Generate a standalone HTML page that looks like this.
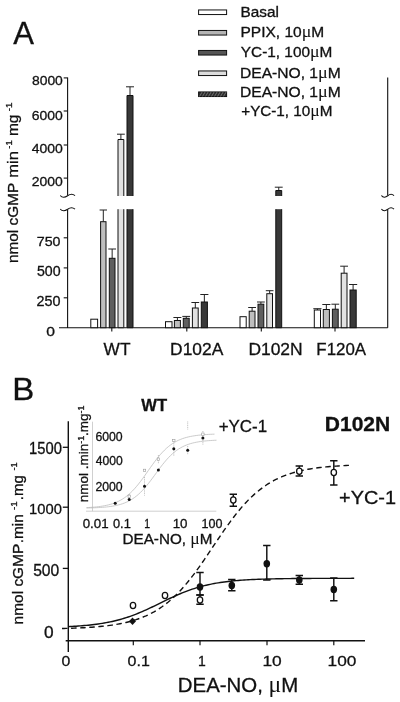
<!DOCTYPE html>
<html><head><meta charset="utf-8"><title>Figure</title>
<style>
html,body{margin:0;padding:0;background:#fff;}
svg{display:block;filter:grayscale(1);}
svg text{font-family:"Liberation Sans",sans-serif;fill:#111;stroke:#111;stroke-width:0.3px;}
</style></head>
<body>
<svg width="400" height="702" viewBox="0 0 400 702">
<rect width="400" height="702" fill="#fff"/>
<text transform="translate(13.20 44.20) scale(0.9786 1)" font-size="31.74" font-weight="normal">A</text>
<text transform="translate(240.52 16.50) scale(1.1156 1)" font-size="13.77" font-weight="normal">Basal</text>
<text transform="translate(240.51 36.90) scale(1.1030 1)" font-size="14.06" font-weight="normal">PPIX, 10<tspan font-family="Liberation Serif, serif" font-size="1.16em" stroke="none">μ</tspan>M</text>
<text transform="translate(240.84 57.40) scale(1.0820 1)" font-size="14.20" font-weight="normal">YC-1, 100<tspan font-family="Liberation Serif, serif" font-size="1.16em" stroke="none">μ</tspan>M</text>
<text transform="translate(240.05 78.00) scale(1.0992 1)" font-size="14.20" font-weight="normal">DEA-NO, 1<tspan font-family="Liberation Serif, serif" font-size="1.16em" stroke="none">μ</tspan>M</text>
<text transform="translate(240.05 97.40) scale(1.0992 1)" font-size="14.20" font-weight="normal">DEA-NO, 1<tspan font-family="Liberation Serif, serif" font-size="1.16em" stroke="none">μ</tspan>M</text>
<text transform="translate(241.24 116.20) scale(1.0736 1)" font-size="14.20" font-weight="normal">+YC-1, 10<tspan font-family="Liberation Serif, serif" font-size="1.16em" stroke="none">μ</tspan>M</text>
<text transform="translate(31.94 85.00) scale(1.0205 1)" font-size="13.62" font-weight="normal">8000</text>
<text transform="translate(31.80 119.50) scale(1.0363 1)" font-size="13.48" font-weight="normal">6000</text>
<text transform="translate(31.72 152.80) scale(1.0391 1)" font-size="13.48" font-weight="normal">4000</text>
<text transform="translate(31.80 186.20) scale(1.0363 1)" font-size="13.48" font-weight="normal">2000</text>
<text transform="translate(36.79 245.60) scale(1.0566 1)" font-size="13.48" font-weight="normal">750</text>
<text transform="translate(36.93 275.90) scale(1.0278 1)" font-size="13.77" font-weight="normal">500</text>
<text transform="translate(36.58 305.60) scale(1.0435 1)" font-size="13.77" font-weight="normal">250</text>
<text transform="translate(46.27 335.60) scale(1.1593 1)" font-size="13.48" font-weight="normal">0</text>
<text transform="translate(103.58 354.50) scale(1.0362 1)" font-size="16.67" font-weight="normal">WT</text>
<text transform="translate(170.11 354.50) scale(1.0266 1)" font-size="16.96" font-weight="normal">D102A</text>
<text transform="translate(248.40 354.50) scale(1.0464 1)" font-size="16.67" font-weight="normal">D102N</text>
<text transform="translate(316.35 354.50) scale(1.0133 1)" font-size="16.67" font-weight="normal">F120A</text>
<text transform="translate(18.00 263.08) rotate(-90) scale(1.0212 1)" font-size="15.07" font-weight="normal">nmol cGMP</text>
<text transform="translate(18.00 177.66) rotate(-90) scale(1.0983 1)" font-size="15.07" font-weight="normal">min</text>
<text transform="translate(12.00 148.68) rotate(-90) scale(1.1153 1)" font-size="8.41" font-weight="normal">-1</text>
<text transform="translate(18.00 136.09) rotate(-90) scale(1.0297 1)" font-size="15.07" font-weight="normal">mg</text>
<text transform="translate(12.00 111.14) rotate(-90) scale(1.1673 1)" font-size="8.41" font-weight="normal">-1</text>
<text transform="translate(12.36 400.00) scale(1.0721 1)" font-size="30.80" font-weight="normal">B</text>
<text transform="translate(29.02 453.70) scale(0.9431 1)" font-size="15.65" font-weight="normal">1500</text>
<text transform="translate(29.02 514.30) scale(0.9519 1)" font-size="15.51" font-weight="normal">1000</text>
<text transform="translate(33.17 575.50) scale(1.0005 1)" font-size="15.65" font-weight="normal">500</text>
<text transform="translate(44.01 638.30) scale(1.1047 1)" font-size="15.65" font-weight="normal">0</text>
<text transform="translate(61.57 665.70) scale(1.0210 1)" font-size="15.51" font-weight="normal">0</text>
<text transform="translate(127.56 665.70) scale(1.0318 1)" font-size="15.51" font-weight="normal">0.1</text>
<text transform="translate(197.88 665.70) scale(0.8998 1)" font-size="15.51" font-weight="normal">1</text>
<text transform="translate(262.41 665.70) scale(1.1204 1)" font-size="15.51" font-weight="normal">10</text>
<text transform="translate(327.62 665.70) scale(1.1150 1)" font-size="15.51" font-weight="normal">100</text>
<text transform="translate(177.82 691.80) scale(1.0068 1)" font-size="20.29" font-weight="normal">DEA-NO, <tspan font-family="Liberation Serif, serif" font-size="1.16em" stroke="none">μ</tspan>M</text>
<text transform="translate(22.90 624.38) rotate(-90) scale(1.0556 1)" font-size="14.64" font-weight="normal">nmol cGMP</text>
<text transform="translate(22.90 543.18) rotate(-90) scale(1.0465 1)" font-size="14.64" font-weight="normal">.min</text>
<text transform="translate(17.00 509.88) rotate(-90) scale(1.1450 1)" font-size="8.41" font-weight="normal">-1</text>
<text transform="translate(22.90 500.15) rotate(-90) scale(1.0225 1)" font-size="14.64" font-weight="normal">.mg</text>
<text transform="translate(17.00 470.47) rotate(-90) scale(1.1004 1)" font-size="8.41" font-weight="normal">-1</text>
<text transform="translate(324.78 431.25) scale(1.0560 1)" font-size="19.93" font-weight="bold">D102N</text>
<text transform="translate(339.00 504.25) scale(1.0577 1)" font-size="18.84" font-weight="normal">+YC-1</text>
<text transform="translate(218.65 431.75) scale(1.0389 1)" font-size="16.30" font-weight="normal">+YC-1</text>
<text transform="translate(141.25 410.75) scale(1.0189 1)" font-size="16.30" font-weight="bold">WT</text>
<text transform="translate(95.38 440.80) scale(0.9869 1)" font-size="12.46" font-weight="normal">6000</text>
<text transform="translate(95.76 465.40) scale(0.9732 1)" font-size="12.46" font-weight="normal">4000</text>
<text transform="translate(95.38 491.00) scale(0.9869 1)" font-size="12.46" font-weight="normal">2000</text>
<text transform="translate(82.67 527.60) scale(1.0455 1)" font-size="12.75" font-weight="normal">0.01</text>
<text transform="translate(112.99 527.60) scale(1.0073 1)" font-size="12.75" font-weight="normal">0.1</text>
<text transform="translate(144.16 527.60) scale(0.8206 1)" font-size="12.75" font-weight="normal">1</text>
<text transform="translate(172.68 527.60) scale(1.0494 1)" font-size="12.75" font-weight="normal">10</text>
<text transform="translate(201.49 527.60) scale(0.9864 1)" font-size="12.75" font-weight="normal">100</text>
<text transform="translate(122.53 544.25) scale(1.0788 1)" font-size="14.13" font-weight="normal">DEA-NO, <tspan font-family="Liberation Serif, serif" font-size="1.16em" stroke="none">μ</tspan>M</text>
<text transform="translate(88.00 502.14) rotate(-90) scale(1.0558 1)" font-size="12.75" font-weight="normal">nmol .min<tspan dy="-0.42em" font-size="0.66em">-1</tspan><tspan dy="0.277em">.mg</tspan><tspan dy="-0.42em" font-size="0.66em">-1</tspan></text>
<rect x="198.6" y="9.95" width="28" height="4.6" fill="#ffffff" stroke="#111" stroke-width="1"/>
<rect x="198.6" y="30.45" width="28" height="4.6" fill="#b4b4b4" stroke="#111" stroke-width="1"/>
<rect x="198.6" y="50.45" width="28" height="4.6" fill="#555555" stroke="#111" stroke-width="1"/>
<rect x="198.6" y="70.95" width="28" height="4.6" fill="#dddddd" stroke="#111" stroke-width="1"/>
<rect x="198.6" y="91.95" width="28" height="4.6" fill="#2e2e2e" stroke="#111" stroke-width="1"/>
<line x1="199.5" y1="96.45" x2="202.1" y2="92.05" stroke="#8a8a8a" stroke-width="0.7"/>
<line x1="202.5" y1="96.45" x2="205.1" y2="92.05" stroke="#8a8a8a" stroke-width="0.7"/>
<line x1="205.5" y1="96.45" x2="208.1" y2="92.05" stroke="#8a8a8a" stroke-width="0.7"/>
<line x1="208.5" y1="96.45" x2="211.1" y2="92.05" stroke="#8a8a8a" stroke-width="0.7"/>
<line x1="211.5" y1="96.45" x2="214.1" y2="92.05" stroke="#8a8a8a" stroke-width="0.7"/>
<line x1="214.5" y1="96.45" x2="217.1" y2="92.05" stroke="#8a8a8a" stroke-width="0.7"/>
<line x1="217.5" y1="96.45" x2="220.1" y2="92.05" stroke="#8a8a8a" stroke-width="0.7"/>
<line x1="220.5" y1="96.45" x2="223.1" y2="92.05" stroke="#8a8a8a" stroke-width="0.7"/>
<line x1="223.5" y1="96.45" x2="226.1" y2="92.05" stroke="#8a8a8a" stroke-width="0.7"/>
<path d="M67.6 77.5V195.5 M67.6 209.5V327.7 M59 327.7H387.7 M387.7 327.7V209.5 M387.7 195.5V77.5" fill="none" stroke="#111" stroke-width="1.1"/>
<path d="M60.199999999999996 195.5 C62.31428571428571 198.0 65.25079365079364 197.4 67.6 195.8 C69.94920634920635 194.0 72.88571428571429 193.8 75.0 195.60000000000002 M60.199999999999996 209.0 C62.31428571428571 211.5 65.25079365079364 210.9 67.6 209.3 C69.94920634920635 207.5 72.88571428571429 207.3 75.0 209.10000000000002 M381.4 195.5 C383.2 198.0 385.7 197.4 387.7 195.8 C389.7 194.0 392.2 193.8 394.0 195.60000000000002 M381.4 209.0 C383.2 211.5 385.7 210.9 387.7 209.3 C389.7 207.5 392.2 207.3 394.0 209.10000000000002" fill="none" stroke="#111" stroke-width="1.1"/>
<line x1="63.7" y1="77.9" x2="67.6" y2="77.9" stroke="#111" stroke-width="1.1"/>
<line x1="63.7" y1="111.0" x2="67.6" y2="111.0" stroke="#111" stroke-width="1.1"/>
<line x1="63.7" y1="145.0" x2="67.6" y2="145.0" stroke="#111" stroke-width="1.1"/>
<line x1="63.7" y1="178.1" x2="67.6" y2="178.1" stroke="#111" stroke-width="1.1"/>
<line x1="63.7" y1="237.8" x2="67.6" y2="237.8" stroke="#111" stroke-width="1.1"/>
<line x1="63.7" y1="267.9" x2="67.6" y2="267.9" stroke="#111" stroke-width="1.1"/>
<line x1="63.7" y1="297.8" x2="67.6" y2="297.8" stroke="#111" stroke-width="1.1"/>
<rect x="90.8" y="319.2" width="6.799999999999997" height="8.5" fill="#ffffff" stroke="#111" stroke-width="1"/>
<path d="M103.3 221.7V210.0 M99.6 210.0H107.0" stroke="#222" stroke-width="1" fill="none"/>
<rect x="100.6" y="221.7" width="5.400000000000006" height="106.0" fill="#bebebe" stroke="#111" stroke-width="1"/>
<path d="M112.15 258.3V249.0 M108.3 249.0H116.0" stroke="#222" stroke-width="1" fill="none"/>
<rect x="109.3" y="258.3" width="5.700000000000003" height="69.39999999999998" fill="#5e5e5e" stroke="#111" stroke-width="1"/>
<path d="M120.9 139.5V134.2 M117.0 134.2H124.8" stroke="#222" stroke-width="1" fill="none"/>
<rect x="118.0" y="139.5" width="5.799999999999997" height="56.5" fill="#e2e2e2"/>
<path d="M118.0 196.0V139.5H123.8V196.0" fill="none" stroke="#111" stroke-width="1"/>
<rect x="118.0" y="209.2" width="5.799999999999997" height="118.5" fill="#e2e2e2"/>
<path d="M118.0 209.2V327.7H123.8V209.2" fill="none" stroke="#111" stroke-width="1"/>
<path d="M130.0 95.5V86.8 M126.0 86.8H134.0" stroke="#222" stroke-width="1" fill="none"/>
<rect x="127.0" y="95.5" width="6.0" height="100.5" fill="#383838"/>
<path d="M127.0 196.0V95.5H133.0V196.0" fill="none" stroke="#111" stroke-width="1"/>
<rect x="127.0" y="209.2" width="6.0" height="118.5" fill="#383838"/>
<path d="M127.0 209.2V327.7H133.0V209.2" fill="none" stroke="#111" stroke-width="1"/>
<rect x="165.5" y="321.7" width="6.5" height="6.0" fill="#ffffff" stroke="#111" stroke-width="1"/>
<path d="M177.4 320.5V317.5 M173.4 317.5H181.4" stroke="#222" stroke-width="1" fill="none"/>
<rect x="174.4" y="320.5" width="6.0" height="7.199999999999989" fill="#bebebe" stroke="#111" stroke-width="1"/>
<path d="M186.25 318.3V316.4 M182.3 316.4H190.2" stroke="#222" stroke-width="1" fill="none"/>
<rect x="183.3" y="318.3" width="5.899999999999977" height="9.399999999999977" fill="#5e5e5e" stroke="#111" stroke-width="1"/>
<path d="M195.3 308.0V302.5 M191.4 302.5H199.2" stroke="#222" stroke-width="1" fill="none"/>
<rect x="192.4" y="308.0" width="5.799999999999983" height="19.69999999999999" fill="#e2e2e2" stroke="#111" stroke-width="1"/>
<path d="M204.35000000000002 302.0V294.5 M200.3 294.5H208.4" stroke="#222" stroke-width="1" fill="none"/>
<rect x="201.3" y="302.0" width="6.099999999999994" height="25.69999999999999" fill="#383838" stroke="#111" stroke-width="1"/>
<rect x="240.0" y="316.7" width="6.199999999999989" height="11.0" fill="#ffffff" stroke="#111" stroke-width="1"/>
<path d="M252.1 311.2V307.5 M248.2 307.5H256.0" stroke="#222" stroke-width="1" fill="none"/>
<rect x="249.2" y="311.2" width="5.800000000000011" height="16.5" fill="#bebebe" stroke="#111" stroke-width="1"/>
<path d="M260.9 304.2V302.0 M257.0 302.0H264.8" stroke="#222" stroke-width="1" fill="none"/>
<rect x="258.0" y="304.2" width="5.800000000000011" height="23.5" fill="#5e5e5e" stroke="#111" stroke-width="1"/>
<path d="M269.65 293.7V290.7 M265.8 290.7H273.5" stroke="#222" stroke-width="1" fill="none"/>
<rect x="266.8" y="293.7" width="5.699999999999989" height="34.0" fill="#e2e2e2" stroke="#111" stroke-width="1"/>
<path d="M278.75 190.5V187.2 M274.8 187.2H282.7" stroke="#222" stroke-width="1" fill="none"/>
<rect x="275.8" y="190.5" width="5.899999999999977" height="5.5" fill="#383838"/>
<path d="M275.8 196.0V190.5H281.7V196.0" fill="none" stroke="#111" stroke-width="1"/>
<rect x="275.8" y="209.2" width="5.899999999999977" height="118.5" fill="#383838"/>
<path d="M275.8 209.2V327.7H281.7V209.2" fill="none" stroke="#111" stroke-width="1"/>
<path d="M317.4 310.0V308.7 M313.3 308.7H321.5" stroke="#222" stroke-width="1" fill="none"/>
<rect x="314.3" y="310.0" width="6.199999999999989" height="17.69999999999999" fill="#ffffff" stroke="#111" stroke-width="1"/>
<path d="M326.35 309.5V304.5 M322.3 304.5H330.4" stroke="#222" stroke-width="1" fill="none"/>
<rect x="323.3" y="309.5" width="6.099999999999966" height="18.19999999999999" fill="#bebebe" stroke="#111" stroke-width="1"/>
<path d="M335.29999999999995 309.2V304.2 M331.4 304.2H339.2" stroke="#222" stroke-width="1" fill="none"/>
<rect x="332.4" y="309.2" width="5.800000000000011" height="18.5" fill="#5e5e5e" stroke="#111" stroke-width="1"/>
<path d="M344.1 273.2V266.2 M340.2 266.2H348.0" stroke="#222" stroke-width="1" fill="none"/>
<rect x="341.2" y="273.2" width="5.800000000000011" height="54.5" fill="#e2e2e2" stroke="#111" stroke-width="1"/>
<path d="M353.1 290.0V284.5 M349.0 284.5H357.2" stroke="#222" stroke-width="1" fill="none"/>
<rect x="350.0" y="290.0" width="6.199999999999989" height="37.69999999999999" fill="#383838" stroke="#111" stroke-width="1"/>
<line x1="111.8" y1="327.7" x2="111.8" y2="331.4" stroke="#111" stroke-width="1.1"/>
<line x1="186.8" y1="327.7" x2="186.8" y2="331.4" stroke="#111" stroke-width="1.1"/>
<line x1="261.3" y1="327.7" x2="261.3" y2="331.4" stroke="#111" stroke-width="1.1"/>
<line x1="335.0" y1="327.7" x2="335.0" y2="331.4" stroke="#111" stroke-width="1.1"/>
<path d="M68.3 421.2V652 M65.7 640.7H365" fill="none" stroke="#111" stroke-width="1.4"/>
<line x1="62.8" y1="447.3" x2="68.3" y2="447.3" stroke="#111" stroke-width="1.3"/>
<line x1="62.8" y1="507.2" x2="68.3" y2="507.2" stroke="#111" stroke-width="1.3"/>
<line x1="62.8" y1="568.4" x2="68.3" y2="568.4" stroke="#111" stroke-width="1.3"/>
<line x1="133.3" y1="640.7" x2="133.3" y2="645.3" stroke="#111" stroke-width="1.2"/>
<line x1="200" y1="640.7" x2="200" y2="645.3" stroke="#111" stroke-width="1.2"/>
<line x1="267" y1="640.7" x2="267" y2="645.3" stroke="#111" stroke-width="1.2"/>
<line x1="333.8" y1="640.7" x2="333.8" y2="645.3" stroke="#111" stroke-width="1.2"/>
<path d="M68.2 626.64 L70.2 626.53 L72.2 626.42 L74.2 626.31 L76.2 626.18 L78.2 626.04 L80.2 625.90 L82.2 625.74 L84.2 625.57 L86.2 625.39 L88.2 625.19 L90.2 624.98 L92.2 624.76 L94.2 624.51 L96.2 624.26 L98.2 623.98 L100.2 623.68 L102.2 623.37 L104.2 623.03 L106.2 622.67 L108.2 622.29 L110.2 621.88 L112.2 621.45 L114.2 620.99 L116.2 620.51 L118.2 620.00 L120.2 619.46 L122.2 618.89 L124.2 618.29 L126.2 617.66 L128.2 617.00 L130.2 616.31 L132.2 615.59 L134.2 614.85 L136.2 614.07 L138.2 613.27 L140.2 612.44 L142.2 611.58 L144.2 610.70 L146.2 609.80 L148.2 608.88 L150.2 607.95 L152.2 607.00 L154.2 606.03 L156.2 605.06 L158.2 604.08 L160.2 603.10 L162.2 602.12 L164.2 601.14 L166.2 600.17 L168.2 599.20 L170.2 598.25 L172.2 597.32 L174.2 596.40 L176.2 595.50 L178.2 594.62 L180.2 593.76 L182.2 592.93 L184.2 592.13 L186.2 591.35 L188.2 590.61 L190.2 589.89 L192.2 589.20 L194.2 588.54 L196.2 587.91 L198.2 587.31 L200.2 586.74 L202.2 586.20 L204.2 585.69 L206.2 585.21 L208.2 584.75 L210.2 584.32 L212.2 583.91 L214.2 583.53 L216.2 583.17 L218.2 582.83 L220.2 582.52 L222.2 582.22 L224.2 581.94 L226.2 581.69 L228.2 581.44 L230.2 581.22 L232.2 581.01 L234.2 580.81 L236.2 580.63 L238.2 580.46 L240.2 580.30 L242.2 580.16 L244.2 580.02 L246.2 579.89 L248.2 579.78 L250.2 579.67 L252.2 579.56 L254.2 579.47 L256.2 579.38 L258.2 579.30 L260.2 579.23 L262.2 579.16 L264.2 579.09 L266.2 579.03 L268.2 578.98 L270.2 578.93 L272.2 578.88 L274.2 578.84 L276.2 578.80 L278.2 578.76 L280.2 578.72 L282.2 578.69 L284.2 578.66 L286.2 578.64 L288.2 578.61 L290.2 578.59 L292.2 578.56 L294.2 578.54 L296.2 578.53 L298.2 578.51 L300.2 578.49 L302.2 578.48 L304.2 578.47 L306.2 578.45 L308.2 578.44 L310.2 578.43 L312.2 578.42 L314.2 578.41 L316.2 578.40 L318.2 578.39 L320.2 578.39 L322.2 578.38 L324.2 578.37 L326.2 578.37 L328.2 578.36 L330.2 578.36 L332.2 578.35 L334.2 578.35 L336.2 578.35 L338.2 578.34 L340.2 578.34 L342.2 578.34 L344.2 578.33 L346.2 578.33 L348.2 578.33 L350.2 578.33 L352.2 578.32 L354.2 578.32" fill="none" stroke="#111" stroke-width="1.4"/>
<path d="M62.0 628.51 L64.0 628.46 L66.0 628.41 L68.0 628.35 L70.0 628.28 L72.0 628.21 L74.0 628.14 L76.0 628.06 L78.0 627.98 L80.0 627.88 L82.0 627.79 L84.0 627.68 L86.0 627.57 L88.0 627.45 L90.0 627.32 L92.0 627.18 L94.0 627.03 L96.0 626.86 L98.0 626.69 L100.0 626.51 L102.0 626.31 L104.0 626.09 L106.0 625.86 L108.0 625.62 L110.0 625.36 L112.0 625.07 L114.0 624.77 L116.0 624.45 L118.0 624.10 L120.0 623.73 L122.0 623.33 L124.0 622.91 L126.0 622.46 L128.0 621.97 L130.0 621.45 L132.0 620.90 L134.0 620.31 L136.0 619.68 L138.0 619.00 L140.0 618.29 L142.0 617.53 L144.0 616.71 L146.0 615.85 L148.0 614.93 L150.0 613.96 L152.0 612.93 L154.0 611.83 L156.0 610.67 L158.0 609.44 L160.0 608.15 L162.0 606.78 L164.0 605.33 L166.0 603.81 L168.0 602.22 L170.0 600.54 L172.0 598.78 L174.0 596.94 L176.0 595.01 L178.0 593.01 L180.0 590.92 L182.0 588.74 L184.0 586.49 L186.0 584.15 L188.0 581.74 L190.0 579.25 L192.0 576.68 L194.0 574.05 L196.0 571.36 L198.0 568.60 L200.0 565.80 L202.0 562.94 L204.0 560.05 L206.0 557.12 L208.0 554.16 L210.0 551.18 L212.0 548.20 L214.0 545.20 L216.0 542.22 L218.0 539.24 L220.0 536.28 L222.0 533.35 L224.0 530.46 L226.0 527.60 L228.0 524.80 L230.0 522.04 L232.0 519.35 L234.0 516.72 L236.0 514.15 L238.0 511.66 L240.0 509.25 L242.0 506.91 L244.0 504.66 L246.0 502.48 L248.0 500.39 L250.0 498.39 L252.0 496.46 L254.0 494.62 L256.0 492.86 L258.0 491.18 L260.0 489.59 L262.0 488.07 L264.0 486.62 L266.0 485.25 L268.0 483.96 L270.0 482.73 L272.0 481.57 L274.0 480.47 L276.0 479.44 L278.0 478.47 L280.0 477.55 L282.0 476.69 L284.0 475.87 L286.0 475.11 L288.0 474.40 L290.0 473.72 L292.0 473.09 L294.0 472.50 L296.0 471.95 L298.0 471.43 L300.0 470.94 L302.0 470.49 L304.0 470.07 L306.0 469.67 L308.0 469.30 L310.0 468.95 L312.0 468.63 L314.0 468.33 L316.0 468.04 L318.0 467.78 L320.0 467.54 L322.0 467.31 L324.0 467.09 L326.0 466.89 L328.0 466.71 L330.0 466.54 L332.0 466.37 L334.0 466.22 L336.0 466.08 L338.0 465.95 L340.0 465.83 L342.0 465.72 L344.0 465.61 L346.0 465.52 L348.0 465.42 L350.0 465.34" fill="none" stroke="#111" stroke-width="1.4" stroke-dasharray="5.5 3.6"/>
<path d="M200 595V604.2 M196.3 595H203.7 M196.3 604.2H203.7" fill="none" stroke="#111" stroke-width="1.45"/>
<path d="M233.3 494.2V506.2 M229.60000000000002 494.2H237.0 M229.60000000000002 506.2H237.0" fill="none" stroke="#111" stroke-width="1.45"/>
<path d="M299.3 466V476 M295.6 466H303.0 M295.6 476H303.0" fill="none" stroke="#111" stroke-width="1.45"/>
<path d="M333.8 460.8V485 M330.1 460.8H337.5 M330.1 485H337.5" fill="none" stroke="#111" stroke-width="1.45"/>
<ellipse cx="133" cy="605.5" rx="2.7" ry="3.1" fill="#fff" stroke="#111" stroke-width="1.3"/>
<ellipse cx="165" cy="595.5" rx="2.7" ry="3.1" fill="#fff" stroke="#111" stroke-width="1.3"/>
<ellipse cx="200" cy="600" rx="2.7" ry="3.1" fill="#fff" stroke="#111" stroke-width="1.3"/>
<ellipse cx="233.3" cy="500" rx="2.7" ry="3.1" fill="#fff" stroke="#111" stroke-width="1.3"/>
<ellipse cx="299.3" cy="471.2" rx="2.7" ry="3.1" fill="#fff" stroke="#111" stroke-width="1.3"/>
<ellipse cx="333.8" cy="472.5" rx="2.7" ry="3.1" fill="#fff" stroke="#111" stroke-width="1.3"/>
<path d="M200 572.5V595 M196.3 572.5H203.7 M196.3 595H203.7" fill="none" stroke="#111" stroke-width="1.45"/>
<path d="M231.8 579.5V590.8 M228.10000000000002 579.5H235.5 M228.10000000000002 590.8H235.5" fill="none" stroke="#111" stroke-width="1.45"/>
<path d="M266.8 545.5V580 M263.1 545.5H270.5 M263.1 580H270.5" fill="none" stroke="#111" stroke-width="1.45"/>
<path d="M299.3 575.5V584.2 M295.6 575.5H303.0 M295.6 584.2H303.0" fill="none" stroke="#111" stroke-width="1.45"/>
<path d="M333.8 578V600.8 M330.1 578H337.5 M330.1 600.8H337.5" fill="none" stroke="#111" stroke-width="1.45"/>
<path d="M132.5 617.6L136 621.3L132.5 625L129 621.3Z" fill="#111"/>
<ellipse cx="200" cy="587" rx="3.3" ry="3.7" fill="#111"/>
<ellipse cx="231.8" cy="585.5" rx="3.3" ry="3.7" fill="#111"/>
<ellipse cx="266.8" cy="563.8" rx="3.3" ry="3.7" fill="#111"/>
<ellipse cx="299.3" cy="580" rx="3.3" ry="3.7" fill="#111"/>
<ellipse cx="333.8" cy="589.5" rx="3.3" ry="3.7" fill="#111"/>
<path d="M92.5 421.7V511.2 M86 511.2H216.3" fill="none" stroke="#c4c4c4" stroke-width="0.8"/>
<path d="M86.5 507.64 L88.5 507.53 L90.5 507.40 L92.5 507.26 L94.5 507.09 L96.5 506.89 L98.5 506.66 L100.5 506.40 L102.5 506.09 L104.5 505.74 L106.5 505.33 L108.5 504.86 L110.5 504.32 L112.5 503.70 L114.5 502.99 L116.5 502.19 L118.5 501.27 L120.5 500.23 L122.5 499.06 L124.5 497.74 L126.5 496.27 L128.5 494.64 L130.5 492.85 L132.5 490.88 L134.5 488.75 L136.5 486.46 L138.5 484.02 L140.5 481.44 L142.5 478.75 L144.5 475.98 L146.5 473.14 L148.5 470.28 L150.5 467.43 L152.5 464.63 L154.5 461.89 L156.5 459.25 L158.5 456.74 L160.5 454.37 L162.5 452.16 L164.5 450.11 L166.5 448.23 L168.5 446.52 L170.5 444.97 L172.5 443.58 L174.5 442.34 L176.5 441.24 L178.5 440.26 L180.5 439.40 L182.5 438.64 L184.5 437.98 L186.5 437.40 L188.5 436.90 L190.5 436.46 L192.5 436.08 L194.5 435.75 L196.5 435.47 L198.5 435.22 L200.5 435.01 L202.5 434.82 L204.5 434.67 L206.5 434.53 L208.5 434.41 L210.5 434.31 L212.5 434.23 L214.5 434.15" fill="none" stroke="#b4b4b4" stroke-width="0.7"/>
<path d="M86.5 508.03 L88.5 507.98 L90.5 507.92 L92.5 507.86 L94.5 507.78 L96.5 507.69 L98.5 507.59 L100.5 507.47 L102.5 507.33 L104.5 507.16 L106.5 506.97 L108.5 506.74 L110.5 506.48 L112.5 506.17 L114.5 505.81 L116.5 505.40 L118.5 504.92 L120.5 504.37 L122.5 503.73 L124.5 503.00 L126.5 502.16 L128.5 501.21 L130.5 500.12 L132.5 498.90 L134.5 497.52 L136.5 495.99 L138.5 494.29 L140.5 492.42 L142.5 490.39 L144.5 488.19 L146.5 485.84 L148.5 483.36 L150.5 480.77 L152.5 478.10 L154.5 475.37 L156.5 472.63 L158.5 469.90 L160.5 467.23 L162.5 464.64 L164.5 462.16 L166.5 459.81 L168.5 457.61 L170.5 455.58 L172.5 453.71 L174.5 452.01 L176.5 450.48 L178.5 449.10 L180.5 447.88 L182.5 446.79 L184.5 445.84 L186.5 445.00 L188.5 444.27 L190.5 443.63 L192.5 443.08 L194.5 442.60 L196.5 442.19 L198.5 441.83 L200.5 441.52 L202.5 441.26 L204.5 441.03 L206.5 440.84 L208.5 440.67 L210.5 440.53 L212.5 440.41 L214.5 440.31 L216.5 440.22" fill="none" stroke="#b4b4b4" stroke-width="0.7"/>
<path d="M144.5 477V495.6" fill="none" stroke="#b0b0b0" stroke-width="0.8" stroke-dasharray="1 0.8"/>
<path d="M173.8 441V456" fill="none" stroke="#b0b0b0" stroke-width="0.8" stroke-dasharray="1 0.8"/>
<path d="M187.7 421.5V429.5" fill="none" stroke="#b0b0b0" stroke-width="0.8" stroke-dasharray="1 0.8"/>
<path d="M187.7 446V455" fill="none" stroke="#b0b0b0" stroke-width="0.8" stroke-dasharray="1 0.8"/>
<path d="M202.9 431V445" fill="none" stroke="#b0b0b0" stroke-width="0.8" stroke-dasharray="1 0.8"/>
<path d="M158.4 455V464" fill="none" stroke="#b0b0b0" stroke-width="0.8" stroke-dasharray="1 0.8"/>
<path d="M129.2 494V499" fill="none" stroke="#b0b0b0" stroke-width="0.8" stroke-dasharray="1 0.8"/>
<rect x="127.99999999999999" y="495.1" width="2.4" height="2.4" fill="#fff" stroke="#9a9a9a" stroke-width="0.6"/>
<rect x="143.3" y="469.2" width="2.4" height="2.4" fill="#fff" stroke="#9a9a9a" stroke-width="0.6"/>
<rect x="157.20000000000002" y="458.0" width="2.4" height="2.4" fill="#fff" stroke="#9a9a9a" stroke-width="0.6"/>
<rect x="172.60000000000002" y="439.3" width="2.4" height="2.4" fill="#fff" stroke="#9a9a9a" stroke-width="0.6"/>
<rect x="201.70000000000002" y="433.0" width="2.4" height="2.4" fill="#fff" stroke="#9a9a9a" stroke-width="0.6"/>
<circle cx="115.2" cy="503.2" r="1.5" fill="#111"/>
<circle cx="129.2" cy="499.6" r="1.5" fill="#111"/>
<circle cx="144.5" cy="486.2" r="1.5" fill="#111"/>
<circle cx="158.4" cy="470" r="1.5" fill="#111"/>
<circle cx="173.8" cy="448.8" r="1.5" fill="#111"/>
<circle cx="187.7" cy="450.3" r="1.5" fill="#111"/>
<circle cx="202.9" cy="438.1" r="1.5" fill="#111"/>
</svg>
</body></html>
